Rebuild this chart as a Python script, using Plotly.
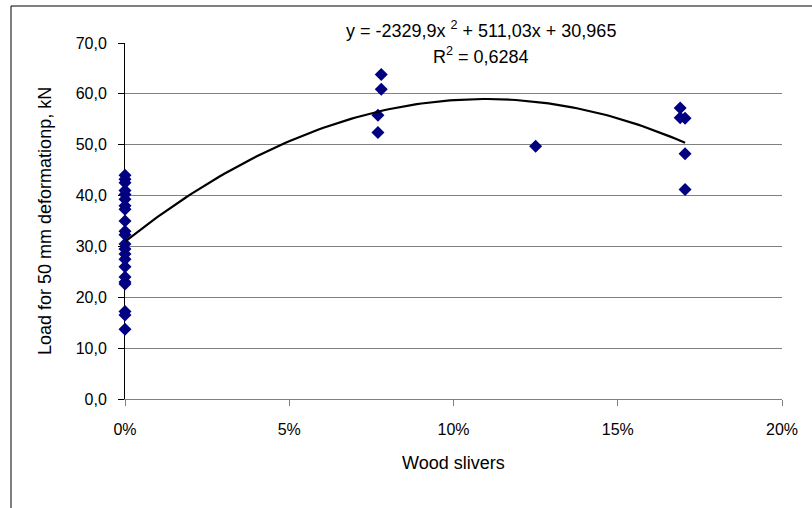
import numpy as np
import plotly.graph_objects as go

# ---- data ----
wood_share = [0.0] * 22 + [0.078, 0.078, 0.077, 0.077, 0.125, 0.169, 0.169, 0.1705, 0.1705, 0.1705]
load_kn = [44.0, 43.2, 42.5, 41.0, 40.2, 39.3, 38.0, 37.3, 35.0, 33.0, 32.3, 30.5, 29.5,
           28.5, 27.5, 26.0, 24.0, 23.0, 22.6, 17.2, 16.5, 13.7,
           63.8, 60.9, 55.8, 52.4, 49.7, 57.2, 55.3, 55.2, 48.2, 41.2]
trend_coeffs = [-2329.9, 511.03, 30.965]   # y = a x^2 + b x + c
trend_x_end = 0.1705

y_tick_vals = [0, 10, 20, 30, 40, 50, 60, 70]
y_tick_text = ["0,0", "10,0", "20,0", "30,0", "40,0", "50,0", "60,0", "70,0"]
x_tick_vals = [0, 0.05, 0.10, 0.15, 0.20]
x_tick_text = ["0%", "5%", "10%", "15%", "20%"]

eq_text = "y = -2329,9x <sup>2</sup> + 511,03x + 30,965"
r2_text = "R<sup>2</sup> = 0,6284"
x_title = "Wood slivers"
y_title = "Load for 50 mm deformationp, kN"

FONT = "Liberation Sans, Arial, sans-serif"

tx = np.linspace(0, trend_x_end, 120)
ty = np.polyval(trend_coeffs, tx)

fig = go.Figure()
fig.add_trace(go.Scatter(x=wood_share, y=load_kn, mode="markers",
                         marker=dict(symbol="diamond", size=10, color="#000080",
                                     line=dict(width=0)),
                         cliponaxis=False, showlegend=False))
fig.add_trace(go.Scatter(x=tx, y=ty, mode="lines",
                         line=dict(color="black", width=2.2),
                         showlegend=False))

fig.update_layout(
    width=812, height=508,
    margin=dict(l=125, r=30, t=43, b=109),
    paper_bgcolor="white", plot_bgcolor="white",
    font=dict(family=FONT, size=16, color="black"),
    xaxis=dict(range=[0, 0.20], tickvals=x_tick_vals, ticktext=x_tick_text,
               showgrid=False, zeroline=False, showline=True, linecolor="#808080",
               linewidth=1, ticks="outside", ticklen=6, tickcolor="#808080",
               ticklabelstandoff=10, layer="below traces", fixedrange=True),
    yaxis=dict(range=[0, 70], tickvals=y_tick_vals, ticktext=y_tick_text,
               showgrid=True, gridcolor="#808080", gridwidth=1,
               zeroline=False, showline=True, linecolor="black", linewidth=1,
               ticks="outside", ticklen=6, tickcolor="black",
               ticklabelstandoff=8, layer="below traces", fixedrange=True),
    annotations=[
        dict(text=eq_text, x=0.542, y=1.039, xref="paper", yref="paper",
             showarrow=False, xanchor="center", yanchor="middle",
             font=dict(size=18)),
        dict(text=r2_text, x=0.542, y=0.966, xref="paper", yref="paper",
             showarrow=False, xanchor="center", yanchor="middle",
             font=dict(size=18)),
        dict(text=x_title, x=0.5, y=-0.18, xref="paper", yref="paper",
             showarrow=False, xanchor="center", yanchor="middle",
             font=dict(size=18)),
        dict(text=y_title, x=-0.1218, y=0.5, xref="paper", yref="paper",
             showarrow=False, xanchor="center", yanchor="middle", textangle=-90,
             font=dict(size=18)),
    ],
    shapes=[
        dict(type="rect", xref="paper", yref="paper",
             x0=(11 - 125) / 657, x1=1.08, y0=-0.35, y1=(399 - 6) / 356,
             line=dict(color="black", width=1), fillcolor="rgba(0,0,0,0)",
             layer="below"),
    ],
)

fig.write_html("out.html")
